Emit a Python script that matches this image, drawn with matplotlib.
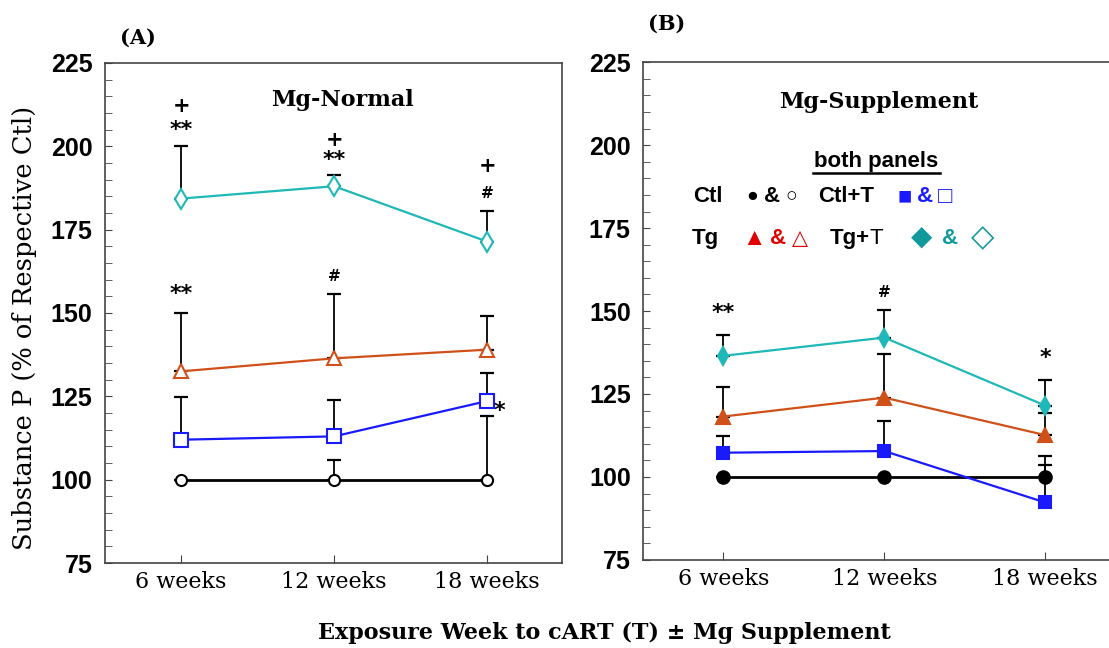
import numpy as np
import matplotlib.pyplot as plt
from matplotlib.lines import Line2D

# colours
C_CTL = 'black'
C_CTLT = '#1a1aff'
C_TG = '#d0501a'
C_TGT = '#1fb8b8'

weeks = ['6 weeks', '12 weeks', '18 weeks']

# Panel A, Mg-Normal (mean, upper error end)
a_ctl = [100, 100, 100]
a_ctl_up = [100, 106, 119]
a_ctlt = [112, 113, 123.6]
a_ctlt_up = [124.7, 124, 132]
a_tg = [132.5, 136.4, 139]
a_tg_up = [150, 155.7, 149]
a_tgt = [184.3, 188, 171.4]
a_tgt_up = [200, 191.3, 180.7]

# Panel B, Mg-Supplement
b_ctl = [100, 100, 100]
b_ctl_up = [100, 100, 103.6]
b_ctlt = [107.3, 107.8, 92.3]
b_ctlt_up = [112.4, 116.9, 106.4]
b_tg = [118.2, 123.9, 112.6]
b_tg_up = [127.2, 137, 119.4]
b_tgt = [136.5, 142, 121.5]
b_tgt_up = [142.8, 150.3, 129.2]

# significance marks: (week index, y, text, size)
a_marks = [(0, 212, '+', 15), (0, 205, '**', 16), (1, 201.8, '+', 15), (1, 195.8, '**', 16),
           (2, 194, '+', 15), (2, 185.8, '#', 11), (0, 155.7, '**', 16), (1, 161, '#', 11),
           (2.08, 120.5, '*', 16)]
b_marks = [(0, 149.4, '**', 16), (1, 155.7, '#', 11), (2, 135.8, '*', 16)]

serif = 'DejaVu Serif'
tickfont = ['Liberation Sans Narrow', 'Liberation Sans', 'DejaVu Sans']

fig = plt.figure(figsize=(11.09, 6.48), dpi=100)
axA = fig.add_axes([0.0947, 0.131, 0.4123, 0.772])
axB = fig.add_axes([0.580, 0.136, 0.425, 0.768])

x = np.arange(3)


def draw(ax, series, filled):
    for mean, up, col, mk, ms, lw in series:
        mean = np.array(mean)
        err = np.array(up) - mean
        ax.errorbar(x, mean, yerr=[np.zeros(3), err], fmt='none', ecolor='black',
                    elinewidth=1.3, capsize=5, capthick=1.6, zorder=2)
        ax.plot(x, mean, '-', color=col, lw=lw, zorder=3)
        ax.plot(x, mean, mk, ms=ms, color=col, mfc=col if filled else 'white',
                mec=col, mew=1.5, ls='none', zorder=4)


draw(axA, [(a_ctl, a_ctl_up, C_CTL, 'o', 8, 2.0),
           (a_ctlt, a_ctlt_up, C_CTLT, 's', 10, 1.6),
           (a_tg, a_tg_up, C_TG, '^', 10, 1.6),
           (a_tgt, a_tgt_up, C_TGT, 'd', 10, 1.6)], False)
draw(axB, [(b_ctl, b_ctl_up, C_CTL, 'o', 9, 2.0),
           (b_ctlt, b_ctlt_up, C_CTLT, 's', 9, 1.6),
           (b_tg, b_tg_up, C_TG, '^', 10, 1.6),
           (b_tgt, b_tgt_up, C_TGT, 'd', 9, 1.6)], True)

for ax, xr in ((axA, 2.49), (axB, 2.43)):
    ax.set_xlim(-0.497, xr)
    ax.set_ylim(75, 225)
    ax.set_xticks(x)
    ax.set_xticklabels(weeks, family=serif, fontsize=16)
    ax.set_yticks(np.arange(75, 226, 25))
    ax.set_yticks(np.arange(75, 226, 5), minor=True)
    ax.tick_params(axis='both', which='both', direction='in', color='#444444')
    ax.tick_params(axis='y', which='major', length=5, pad=9)
    ax.tick_params(axis='y', which='minor', length=5)
    ax.tick_params(axis='x', length=6, pad=6)
    for lab in ax.get_yticklabels():
        lab.set_family(tickfont)
        lab.set_fontweight('bold')
        lab.set_fontsize(18)
    for sp in ax.spines.values():
        sp.set_color('#444444')
        sp.set_linewidth(1.2)

axB.spines['right'].set_visible(False)

for xi, yv, t, s in a_marks:
    axA.text(xi, yv, t, ha='center', va='center', fontsize=s, fontweight='bold')
for xi, yv, t, s in b_marks:
    axB.text(xi, yv, t, ha='center', va='center', fontsize=s, fontweight='bold')

axA.text(0.52, 0.925, 'Mg-Normal', transform=axA.transAxes, ha='center', va='center',
         family=serif, fontweight='bold', fontsize=16)
axB.text(0.50, 0.92, 'Mg-Supplement', transform=axB.transAxes, ha='center', va='center',
         family=serif, fontweight='bold', fontsize=16)

axA.set_ylabel('Substance P (% of Respective Ctl)', family=serif, fontsize=18.5)
axA.yaxis.set_label_coords(-0.148, 0.47)

fig.text(0.124, 0.941, '(A)', family=serif, fontweight='bold', fontsize=15, ha='center', va='center')
fig.text(0.601, 0.963, '(B)', family=serif, fontweight='bold', fontsize=15, ha='center', va='center')
fig.text(0.545, 0.023, 'Exposure Week to cART (T) \u00b1 Mg Supplement', family=serif,
         fontweight='bold', fontsize=16, ha='center', va='center')

# legend block in panel B
lg = dict(transform=fig.transFigure, va='center', ha='center', fontsize=16, fontweight='bold',
          family=['Liberation Sans', 'DejaVu Sans'])
fig.text(876 / 1109, 1 - 161 / 648, 'both panels', **lg)
fig.add_artist(Line2D([813 / 1109, 940 / 1109], [1 - 173 / 648] * 2, color='black', lw=1.8))
row1 = 1 - 197 / 648
row2 = 1 - 238 / 648
fig.text(708 / 1109, row1, 'Ctl', **lg)
fig.text(752 / 1109, row1, '\u25cf', **{**lg, 'fontsize': 14})
fig.text(772 / 1109, row1, '&', **lg)
fig.text(791 / 1109, row1, '\u25cb', **{**lg, 'fontsize': 14, 'fontweight': 'normal'})
fig.text(846 / 1109, row1, 'Ctl+T', **lg)
fig.text(905 / 1109, row1, '\u25a0', **{**lg, 'fontsize': 17, 'color': C_CTLT})
fig.text(925 / 1109, row1, '&', **{**lg, 'color': C_CTLT})
fig.text(945 / 1109, row1, '\u25a1', **{**lg, 'fontsize': 17, 'color': C_CTLT, 'fontweight': 'normal'})

fig.text(705 / 1109, row2, 'Tg', **lg)
fig.text(754 / 1109, row2, '\u25b2', **{**lg, 'fontsize': 17, 'color': '#e00000'})
fig.text(778 / 1109, row2, '&', **{**lg, 'color': '#e00000'})
fig.text(800 / 1109, row2, '\u25b3', **{**lg, 'fontsize': 15, 'color': '#e00000'})
fig.text(870 / 1109, row2, 'Tg+', **{**lg, 'ha': 'right'})
fig.text(870 / 1109, row2, 'T', **{**lg, 'ha': 'left', 'fontweight': 'normal'})
fig.text(922 / 1109, row2, '\u25c6', **{**lg, 'fontsize': 20, 'color': '#12999c'})
fig.text(950 / 1109, row2, '&', **{**lg, 'color': '#12999c'})
fig.text(983 / 1109, row2, '\u25c7', **{**lg, 'fontsize': 22, 'color': '#12999c', 'fontweight': 'normal'})

fig.savefig('out.png', dpi=100)
